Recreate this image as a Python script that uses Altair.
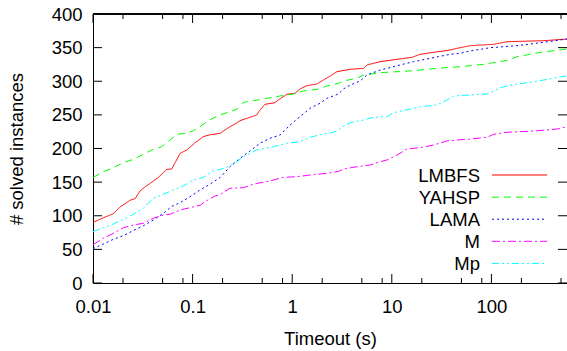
import altair as alt
import pandas as pd

# ---------------- data ----------------
series = ["LMBFS", "YAHSP", "LAMA", "M", "Mp"]
colors = ["#ff0000", "#00ff00", "#0000ff", "#ff00ff", "#00ffff"]
dashes = [[1, 0], [7, 5], [2, 3], [8, 3, 2, 3], [7, 3, 2, 3, 2, 3]]

lmbfs_t = [0.01, 0.0127, 0.016, 0.0187, 0.0235, 0.0265, 0.0297, 0.0333, 0.0374, 0.0453,
           0.055, 0.0617, 0.0749, 0.0875, 0.106, 0.128, 0.150, 0.189, 0.204, 0.237,
           0.267, 0.300, 0.377, 0.440, 0.475, 0.533, 0.671, 0.725, 0.882, 1.067,
           1.197, 1.40, 1.77, 2.06, 2.41, 2.81, 3.83, 5.21, 5.63, 7.66,
           11.3, 16.0, 19.3, 26.3, 38.7, 45.2, 61.5, 105, 144, 336, 577]
lmbfs_n = [90, 97, 103, 113, 123, 125.5, 137, 143, 148, 157,
           169, 169.5, 192.8, 197.8, 208.6, 217.6, 220.5, 222.6, 226, 232.4,
           236.4, 241.4, 246.4, 249.8, 257.2, 265.7, 268.1, 272.1, 280.6, 282.1,
           288.5, 293.4, 295.9, 301.9, 307.8, 314.2, 317.8, 319.2, 324.2, 329.1,
           332.6, 335.6, 340.1, 343, 346.5, 349, 352.9, 354.9, 358.8, 360.3, 362.8]

yahsp_t = [0.01, 0.0127, 0.016, 0.0202, 0.0254, 0.032, 0.0403, 0.049, 0.0594, 0.0693,
           0.0874, 0.1016, 0.1185, 0.1437, 0.181, 0.278, 0.324, 0.410, 0.556, 0.756,
           1.03, 1.29, 1.77, 2.23, 2.92, 3.28, 4.46, 5.21, 7.66, 11.3,
           16.5, 24.3, 35.7, 48.5, 61.5, 83.5, 144, 181, 311, 577]
yahsp_n = [157, 165.5, 171.5, 178.9, 183.9, 191.4, 198.8, 202.7, 212.6, 221.1,
           222.6, 226.5, 232.4, 241.4, 249, 258.3, 268.7, 271.1, 274.6, 278.1,
           281, 285.5, 288, 292.9, 296.9, 300.4, 304.4, 309.3, 312.8, 314.2,
           315.7, 318.2, 320.2, 321.6, 323.1, 325.2, 331.1, 336.5, 343, 348]

lama_t = [0.01, 0.0127, 0.016, 0.0202, 0.0254, 0.032, 0.0403, 0.0509, 0.0618, 0.0749,
          0.0942, 0.119, 0.150, 0.189, 0.237, 0.300, 0.377, 0.475, 0.598, 0.756,
          0.951, 1.197, 1.51, 1.90, 2.23, 2.9, 3.3, 3.83, 4.82, 5.63,
          7.66, 11.3, 16.5, 24.3, 38.7, 48.5, 61.5, 97.2, 181, 336, 577]
lama_n = [51, 58, 65, 70.4, 78, 85, 93.7, 103.6, 114, 119.4,
          128.3, 138.3, 147, 157, 172.9, 185.4, 196.3, 207.7, 215.2, 220.1,
          234.9, 247.3, 259.8, 267.2, 274.6, 281, 289, 294.4, 300.4, 309.3,
          316.7, 323.1, 329.1, 334.1, 340.1, 341.6, 345, 349.9, 352.9, 357.9, 362.8]

m_t = [0.01, 0.0127, 0.016, 0.0202, 0.0254, 0.032, 0.0403, 0.0509, 0.0594, 0.0749,
       0.0942, 0.119, 0.133, 0.168, 0.189, 0.237, 0.324, 0.410, 0.598, 0.815,
       1.11, 1.51, 2.23, 2.92, 3.28, 4.46, 6.07, 7.66, 8.93, 11.3,
       14.2, 19.3, 26.3, 35.7, 48.5, 61.5, 90.6, 105, 144, 267, 458, 577]
m_n = [57, 66.5, 73.9, 82.2, 86.2, 88.8, 96.2, 101.1, 102.2, 108.6,
       112, 115.5, 120.9, 129.4, 131.5, 140.8, 141.7, 147.2, 151.7, 157.2,
       158.1, 160.6, 163.1, 166, 169.5, 172.9, 175.5, 180.4, 182.9, 190.3,
       199.3, 201.2, 205.2, 211.2, 213, 214.1, 216.7, 221.1, 224.1, 226, 229, 232.4]

mp_t = [0.01, 0.0127, 0.016, 0.0202, 0.0254, 0.032, 0.0403, 0.0509, 0.0641, 0.0808,
        0.1016, 0.128, 0.161, 0.189, 0.220, 0.278, 0.324, 0.440, 0.650, 0.882,
        1.197, 1.51, 2.06, 2.50, 2.92, 3.06, 3.83, 5.21, 6.56, 8.93,
        10.4, 15.3, 19.3, 28.4, 35.7, 41.8, 61.5, 90.6, 123, 155, 267, 419, 577]
mp_n = [76.3, 82.2, 87.7, 94.7, 102.2, 111.1, 126, 131.9, 138.3, 144.2,
        153.2, 157.2, 167, 169, 172, 180.4, 187.8, 197.8, 202.7, 207.7,
        210.1, 216.7, 221.6, 223.5, 227, 230.9, 238.4, 242.4, 246.4, 247.3,
        253.2, 258.7, 262.2, 264.7, 272.1, 278.1, 279.6, 281, 290.4, 294.4, 299.3, 304.4, 308.3]

x_major = [0.01, 0.1, 1, 10, 100]
x_minor = [0.02, 0.05, 0.08, 0.2, 0.5, 0.8, 2, 5, 8, 20, 50, 80, 200, 500]
y_ticks = [0, 50, 100, 150, 200, 250, 300, 350, 400]

# ---------------- tables ----------------
rows = []
for name, ts, ns in zip(series, [lmbfs_t, yahsp_t, lama_t, m_t, mp_t],
                        [lmbfs_n, yahsp_n, lama_n, m_n, mp_n]):
    for t, n in zip(ts, ns):
        rows.append({"series": name, "t": t, "n": n})
df = pd.DataFrame(rows)
leg = pd.DataFrame({"series": series, "row": list(range(len(series)))})

W, H = 474, 269
FONT = "Liberation Sans"
FS = 18.5

xscale = alt.Scale(type="log", domain=[0.01, 574], nice=False)
yscale = alt.Scale(domain=[0, 400], nice=False)
cscale = alt.Scale(domain=series, range=colors)
dscale = alt.Scale(domain=series, range=dashes)

xaxis = alt.Axis(values=x_major, format="~g", labelPadding=14,
                 title="Timeout (s)", titleY=61, titleX=W / 2)
yaxis = alt.Axis(values=y_ticks, labelPadding=11,
                 title="# solved instances", titleAngle=270,
                 titleX=-70.5, titleY=H / 2)

lines = alt.Chart(df).mark_line(strokeWidth=1, clip=True).encode(
    x=alt.X("t:Q", scale=xscale, axis=xaxis),
    y=alt.Y("n:Q", scale=yscale, axis=yaxis),
    color=alt.Color("series:N", scale=cscale, legend=None),
    strokeDash=alt.StrokeDash("series:N", scale=dscale, legend=None),
)

xmaj = pd.DataFrame({"t": x_major})
xmin = pd.DataFrame({"t": x_minor})
yt = pd.DataFrame({"n": y_ticks})

def xtick(d, y0, y1):
    return alt.Chart(d).mark_rule(color="black", strokeWidth=1).encode(
        x=alt.X("t:Q", scale=xscale, axis=xaxis), y=alt.value(y0), y2=alt.value(y1))

def ytick(x0, x1):
    return alt.Chart(yt).mark_rule(color="black", strokeWidth=1).encode(
        y=alt.Y("n:Q", scale=yscale, axis=yaxis), x=alt.value(x0), x2=alt.value(x1))

ticks = [
    xtick(xmaj, H - 9, H), xtick(xmaj, 0, 9),
    xtick(xmin, H - 5, H), xtick(xmin, 0, 5),
    ytick(0, 9), ytick(W - 9, W),
]

top_border = alt.Chart(xmaj).mark_rule(color="black", strokeWidth=1).encode(
    x=alt.value(0), x2=alt.value(W), y=alt.value(0))

leg_text = alt.Chart(leg).transform_calculate(
    ly="167.7 + datum.row * 22.1"
).mark_text(align="right", baseline="alphabetic", font=FONT, fontSize=FS,
            color="black").encode(
    x=alt.value(387), y=alt.Y("ly:Q", scale=None, axis=None), text="series:N")

leg_line = alt.Chart(leg).transform_calculate(
    lly="161 + datum.row * 22.1"
).mark_rule(strokeWidth=1).encode(
    x=alt.value(399), x2=alt.value(454),
    y=alt.Y("lly:Q", scale=None, axis=None),
    color=alt.Color("series:N", scale=cscale, legend=None),
    strokeDash=alt.StrokeDash("series:N", scale=dscale, legend=None))

chart = alt.layer(lines, *ticks, top_border, leg_text, leg_line).properties(
    width=W, height=H,
    padding={"left": 93, "top": 14, "right": 0, "bottom": 68},
    autosize=alt.AutoSizeParams(type="none"),
    background="white",
).configure_view(stroke=None).configure_axis(
    ticks=False, grid=False, labelFlush=False, labelOverlap=False,
    labelFont=FONT, labelFontSize=FS, labelColor="black",
    domainColor="black", domainWidth=1,
    titleFont=FONT, titleFontSize=FS, titleFontWeight="normal",
    titleColor="black", titleBaseline="alphabetic",
)

chart.save("out.html", embed_options={"renderer": "svg", "actions": False})
